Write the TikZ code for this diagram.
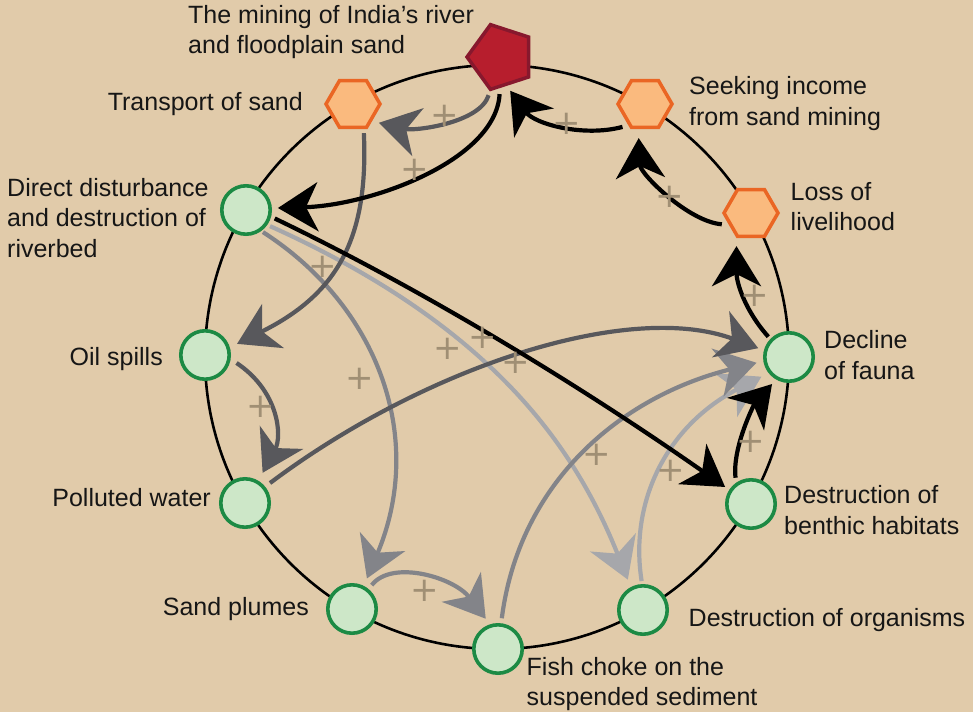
\documentclass[tikz,border=0pt]{standalone}
\usepackage{fontspec}
\setmainfont{Liberation Sans}
\newfontfamily\signfont{DejaVu Sans}
\usetikzlibrary{shapes.geometric,arrows.meta}

\definecolor{bgtan}{RGB}{225,203,170}
\definecolor{ink}{RGB}{22,22,22}
\definecolor{greenfill}{RGB}{205,231,200}
\definecolor{greenline}{RGB}{28,138,68}
\definecolor{orangefill}{RGB}{250,186,126}
\definecolor{orangeline}{RGB}{234,102,36}
\definecolor{redfill}{RGB}{183,30,45}
\definecolor{redline}{RGB}{135,24,45}
\definecolor{darklink}{RGB}{88,88,92}
\definecolor{midlink}{RGB}{131,132,137}
\definecolor{lightlink}{RGB}{166,167,171}
\definecolor{signcol}{RGB}{160,143,116}

\tikzset{
  factor/.style={circle, draw=greenline, fill=greenfill, line width=3.6pt,
    minimum size=48.4pt, inner sep=0pt},
  driver/.style={regular polygon, regular polygon sides=6, draw=orangeline,
    fill=orangefill, line width=3.5pt, minimum size=54pt, inner sep=0pt},
  source/.style={regular polygon, regular polygon sides=5, shape border rotate=90,
    draw=redline, fill=redfill, line width=3.5pt, minimum size=68pt, inner sep=0pt},
  caption/.style={font=\fontsize{25}{30.5}\selectfont, text=ink, inner sep=0pt, align=left},
  sign/.style={font=\signfont\fontsize{34}{34}\selectfont, text=signcol, inner sep=0pt},
  tipshape/.tip={Stealth[length=40pt 0 0, width=49pt 0 0, inset=12pt 0 0]},
  link/.style={line width=4.2pt, -tipshape},
  ring/.style={line width=2.6pt, draw=black},
}

\begin{document}
\begin{tikzpicture}[x=1pt,y=-1pt]
\useasboundingbox (0,0) rectangle (973,712);
\fill[bgtan] (0,0) rectangle (973,712);

% the loop on which all factors sit
\coordinate (hub) at (497,357);
\draw[ring] (hub) circle[radius=292];

% factors
\node[source] (mine)  at (501,57)  {};
\node[driver] (trans) at (353,104) {};
\node[driver] (seek)  at (645,104) {};
\node[driver] (loss)  at (751,213) {};
\node[factor] (dist)  at (246,210) {};
\node[factor] (oil)   at (205,355) {};
\node[factor] (poll)  at (245,503) {};
\node[factor] (plume) at (352,609) {};
\node[factor] (fish)  at (498,649) {};
\node[factor] (org)   at (643,610) {};
\node[factor] (benth) at (751,504) {};
\node[factor] (decl)  at (789,357) {};

% captions
\node[caption, anchor=north west] (tmine)  at (188,5)     {The mining of India’s river\\and floodplain sand};
\node[caption, anchor=base east]  (ttrans) at (303,110)   {Transport of sand};
\node[caption, anchor=north west] (tseek)  at (689,76.3)  {Seeking income\\from sand mining};
\node[caption, anchor=north west] (tloss)  at (790.5,182) {Loss of\\livelihood};
\node[caption, anchor=north west] (tdist)  at (7,178)     {Direct disturbance\\and destruction of\\riverbed};
\node[caption, anchor=base east]  (toil)   at (163,365)   {Oil spills};
\node[caption, anchor=base east]  (tpoll)  at (211,506.7) {Polluted water};
\node[caption, anchor=base east]  (tplume) at (309,615)   {Sand plumes};
\node[caption, anchor=north west] (tfish)  at (526.5,657) {Fish choke on the\\suspended sediment};
\node[caption, anchor=base west]  (torg)   at (688.5,626.7) {Destruction of organisms};
\node[caption, anchor=north west] (tbenth) at (784,485.3) {Destruction of\\benthic habitats};
\node[caption, anchor=north west] (tdecl)  at (824,330.3) {Decline\\of fauna};

% light grey links
\draw[link, draw=lightlink, shorten <=3pt, shorten >=8pt]
  (dist.-35) .. controls +(220,99) and +(-58,-145) .. (org.118);
\draw[link, draw=lightlink, shorten <=3pt, shorten >=8pt]
  (org.92) .. controls +(-13,-82) and +(-102,53) .. (decl.-142);

% mid grey links
\draw[link, draw=midlink, shorten <=2pt, shorten >=8pt]
  (dist.-54) .. controls +(118,76) and +(62,-147) .. (plume.63);
\draw[link, draw=midlink, shorten <=5pt, shorten >=7pt]
  (plume.50) .. controls +(23,-30) and +(-36,-47) .. (fish.108);
\draw[link, draw=midlink, shorten <=5pt, shorten >=7pt]
  (fish.83) .. controls +(18,-140) and +(-144,36) .. (decl.-171);

% dark grey links
\draw[link, draw=darklink, shorten <=4pt, shorten >=7pt]
  (mine.-108) .. controls +(-10,32) and +(42,10) .. (trans.-42);
\draw[link, draw=darklink, shorten <=4pt, shorten >=8pt]
  (trans.-67) .. controls +(5,110) and +(107,-53) .. (oil.17);
\draw[link, draw=darklink, shorten <=7pt, shorten >=9pt]
  (oil.-9) .. controls +(48,32) and +(24,-45) .. (poll.59);
\draw[link, draw=darklink, shorten <=6pt, shorten >=6pt]
  (poll.39) .. controls +(160,-120) and +(-135,-50) .. (decl.165);

% black links
\draw[link, draw=black, shorten <=6pt, shorten >=6pt]
  (mine.-92) .. controls +(-4,72) and +(100,-3) .. (dist.4);
\draw[link, draw=black, shorten <=6pt, shorten >=6pt]
  (seek.-128) .. controls +(-45,12) and +(28,38) .. (mine.-79);
\draw[link, draw=black, shorten <=7pt, shorten >=9pt]
  (loss.-152) .. controls +(-40,-3) and +(2,45) .. (seek.-105);
\draw[link, draw=black, shorten <=3pt, shorten >=8pt]
  (decl.136) .. controls +(-25,-28) and +(0,45) .. (loss.-120);
\draw[link, draw=black, shorten <=5pt, shorten >=6pt]
  (benth.125) .. controls +(-4,-35) and +(-22,25) .. (decl.-120);
\draw[link, draw=black, shorten <=4pt, shorten >=5pt]
  (dist.-15) .. controls +(150,72) and +(-150,-105) .. (benth.147);

% polarity signs
\node[sign] (p1)  at (445,116) {+};
\node[sign] (p2)  at (415,170) {+};
\node[sign] (p3)  at (567,124) {+};
\node[sign] (p4)  at (670,197) {+};
\node[sign] (p5)  at (755,296) {+};
\node[sign] (p6)  at (751,442) {+};
\node[sign] (p7)  at (323,267) {+};
\node[sign] (p8)  at (360,379) {+};
\node[sign] (p9)  at (261,407) {+};
\node[sign] (p10) at (448,349) {+};
\node[sign] (p11) at (483,338) {+};
\node[sign] (p12) at (516,363) {+};
\node[sign] (p13) at (425,591) {+};
\node[sign] (p14) at (597,455) {+};
\node[sign] (p15) at (671,471) {+};
\end{tikzpicture}
\end{document}
